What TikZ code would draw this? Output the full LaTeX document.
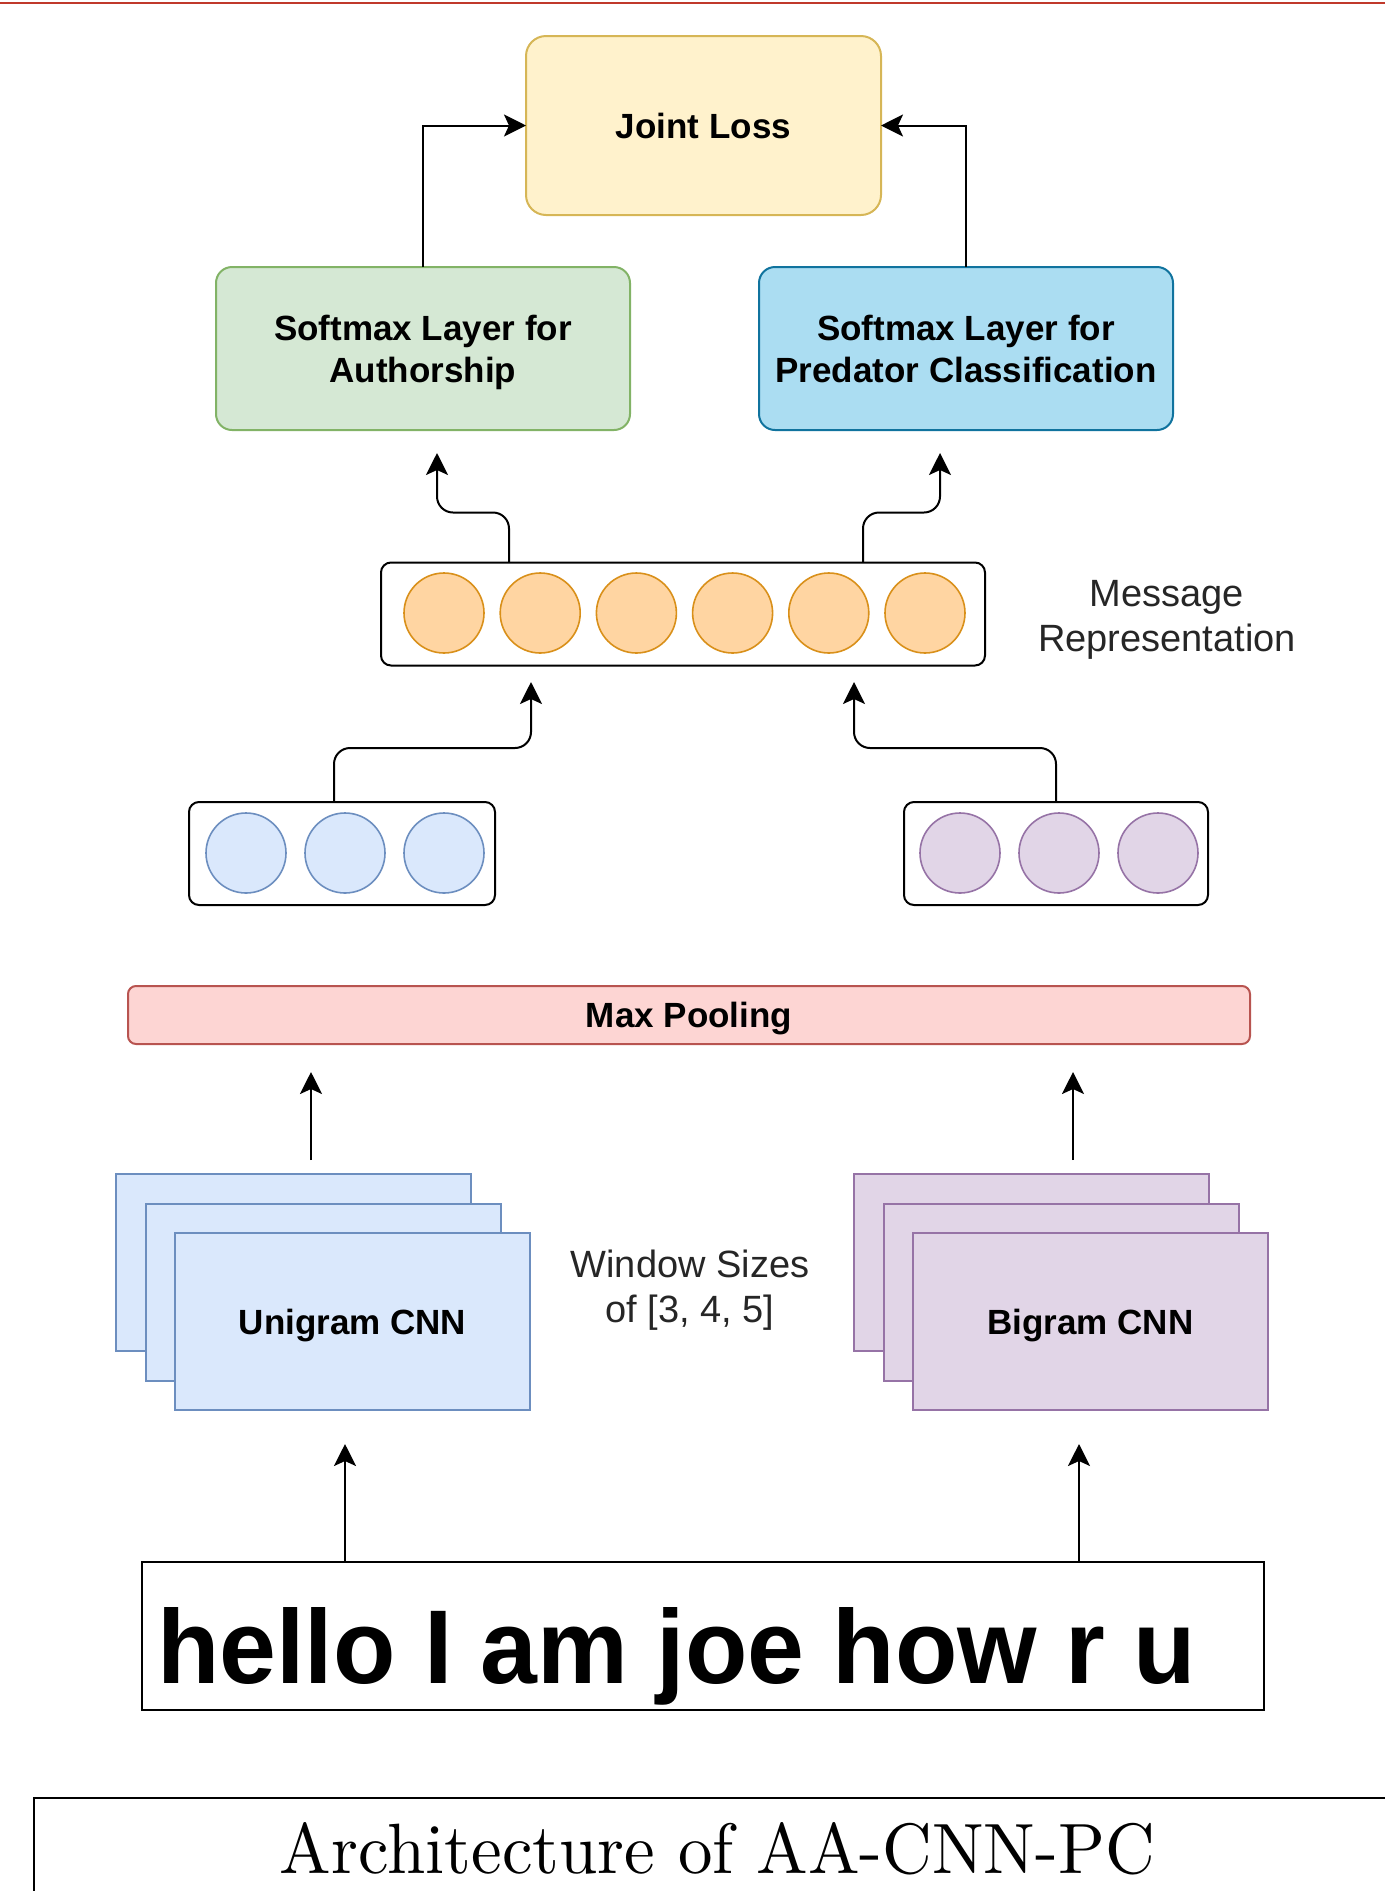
\documentclass[tikz,border=0pt]{standalone}
\usepackage{fontspec}
\setsansfont{Liberation Sans}
\usepackage{graphicx}
\usetikzlibrary{arrows.meta}
\definecolor{lossfill}{HTML}{FFF2CC}
\definecolor{lossline}{HTML}{D6B656}
\definecolor{authfill}{HTML}{D5E8D4}
\definecolor{authline}{HTML}{82B366}
\definecolor{predfill}{HTML}{ABDDF2}
\definecolor{predline}{HTML}{10739E}
\definecolor{repfill}{HTML}{FFD5A2}
\definecolor{repline}{HTML}{D9901A}
\definecolor{unifill}{HTML}{DAE8FC}
\definecolor{uniline}{HTML}{6C8EBF}
\definecolor{bifill}{HTML}{E1D5E7}
\definecolor{biline}{HTML}{9673A6}
\definecolor{poolfill}{HTML}{FDD5D3}
\definecolor{poolline}{HTML}{B85450}
\definecolor{slidered}{HTML}{C0392B}
\begin{document}
\begin{tikzpicture}[x=.5pt,y=-.5pt,
	lbl/.style={font=\sffamily\bfseries\fontsize{17.5}{21}\selectfont,align=center,text depth=0pt,inner sep=0pt,outer sep=0pt},
	softbox/.style={lbl,draw,line width=1pt,rounded corners=8pt,minimum width=207pt,minimum height=81.5pt},
	holder/.style={draw,line width=1pt,rounded corners=5pt,minimum height=51.5pt,inner sep=0pt,outer sep=0pt},
	unit/.style={circle,draw,line width=.8pt,minimum size=40pt,inner sep=0pt},
	cnn/.style={lbl,draw,line width=1pt,minimum width=177.5pt,minimum height=88.5pt},
	note/.style={font=\sffamily\fontsize{19}{22.5}\selectfont,align=center,text=black!85},
	arr/.style={-{Stealth[length=11pt,width=11pt,inset=2.5pt]},line width=1pt}]
	
	\def\gap{29.5}
	\useasboundingbox (0,0) rectangle (1385,1891);
	\draw[slidered,line width=1.3pt] (0,3)--(1385,3);
	
	% output layers
	\node[softbox,fill=lossfill,draw=lossline,minimum width=177.5pt,minimum height=89.5pt,rounded corners=10pt] (loss) at (703.5,125.5) {Joint Loss};
	\node[softbox,fill=authfill,draw=authline] (auth) at (423,348.5) {Softmax Layer for\\Authorship};
	\node[softbox,fill=predfill,draw=predline] (pred) at (966,348.5) {Softmax Layer for\\Predator Classification};
	\draw[arr] (auth.north) |- (loss.west);
	\draw[arr] (pred.north) |- (loss.east);
	
	% message vector
	\node[holder,minimum width=302pt] (msg) at (683,614) {};
	\foreach \i in {0,...,5} \node[unit,fill=repfill,draw=repline] (m\i) at ({444+96.2*\i},613) {};
	\node[note] (msglbl) at (1167,620) {Message\\Representation};
	\coordinate (toauth) at (437,453);
	\coordinate (topred) at (940,453);
	\draw[arr,rounded corners=8pt] ([xshift=-87pt]msg.north) -- ++(0,-50) -| (toauth);
	\draw[arr,rounded corners=8pt] ([xshift=90pt]msg.north) -- ++(0,-50) -| (topred);
	
	% pooled vectors
	\node[holder,minimum width=153pt] (uvec) at (342,853.5) {};
	\node[holder,minimum width=152pt] (bvec) at (1056,853.5) {};
	\foreach \i in {0,1,2} {
		\node[unit,fill=unifill,draw=uniline] (u\i) at ({246+99*\i},853) {};
		\node[unit,fill=bifill,draw=biline] (b\i) at ({960+99*\i},853) {};
	}
	\coordinate (umsg) at (531,682);
	\coordinate (bmsg) at (854,682);
	\draw[arr,rounded corners=8pt] ([xshift=-4pt]uvec.north) -- ++(0,-54) -| (umsg);
	\draw[arr,rounded corners=8pt] (bvec.north) -- ++(0,-54) -| (bmsg);
	
	\node[lbl,draw=poolline,fill=poolfill,line width=1pt,rounded corners=4pt,minimum width=561pt,minimum height=29pt] (pool) at (689,1015) {Max Pooling};
	
	% convolution stacks
	\foreach \i in {0,1} {
		\node[cnn,fill=unifill,draw=uniline] (uni\i) at ({293.5+\gap*\i},{1262.5+\gap*\i}) {};
		\node[cnn,fill=bifill,draw=biline] (bi\i) at ({1031.5+\gap*\i},{1262.5+\gap*\i}) {};
	}
	\node[cnn,fill=unifill,draw=uniline] (uni2) at (352.5,1321.5) {Unigram CNN};
	\node[cnn,fill=bifill,draw=biline] (bi2) at (1090.5,1321.5) {Bigram CNN};
	\node[note] (win) at (690,1290) {Window Sizes\\of [3, 4, 5]};
	\coordinate (uout) at (311,1160);
	\coordinate (uin) at (311,1072);
	\coordinate (bout) at (1073,1160);
	\coordinate (bin) at (1073,1072);
	\draw[arr] (uout) -- (uin);
	\draw[arr] (bout) -- (bin);
	
	% input sentence
	\node[draw,line width=1.2pt,minimum width=561pt,minimum height=74pt,inner sep=0pt] (sent) at (703,1636) {};
	\node[anchor=base west,inner sep=0pt] (words) at (157,1683) {\resizebox{519pt}{38pt}{\sffamily\bfseries hello I am joe how r u}};
	\coordinate (uinput) at (345,1444);
	\coordinate (binput) at (1079,1444);
	\draw[arr] ([xshift=-179pt]sent.north) -- (uinput);
	\draw[arr] ([xshift=188pt]sent.north) -- (binput);
	
	% caption
	\draw[line width=1pt] (34,1891) -- (34,1798) -- (1385,1798);
	\node[anchor=base,inner sep=0pt] (caption) at (717.5,1873) {\resizebox{437.5pt}{25.5pt}{Architecture of AA-CNN-PC}};
	
\end{tikzpicture}
\end{document}
